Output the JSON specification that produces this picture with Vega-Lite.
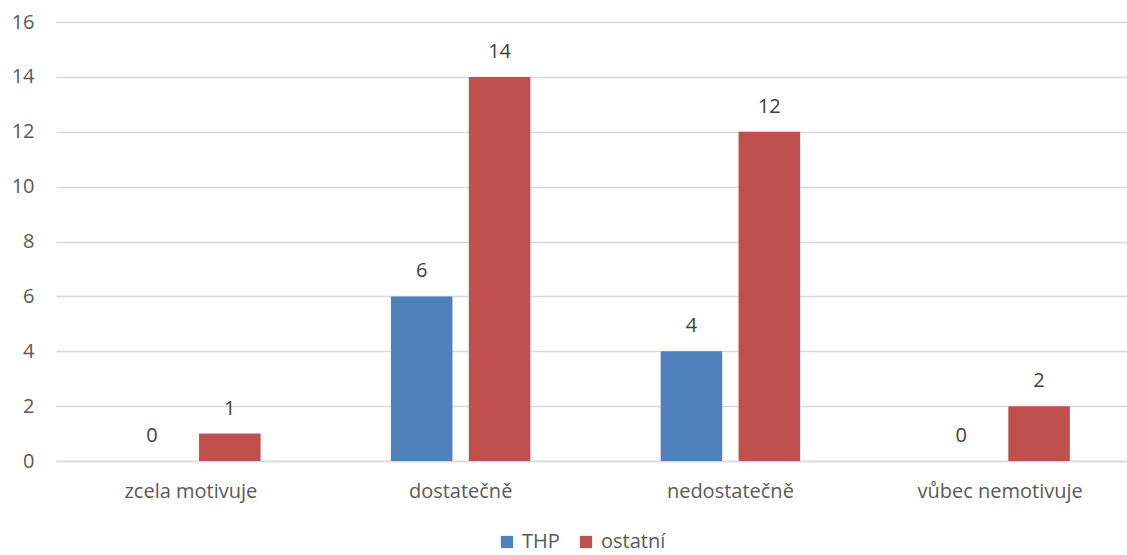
{
  "$schema": "https://vega.github.io/schema/vega-lite/v6.json",
  "width": 1071,
  "height": 439,
  "autosize": {"type": "none"},
  "padding": {"left": 56, "top": 22, "right": 0, "bottom": 94},
  "background": "white",
  "config": {
    "view": {"stroke": null},
    "font": "Open Sans",
    "axis": {"labelFont": "Open Sans", "labelColor": "#595959", "labelFontSize": 20}
  },
  "data": {
    "values": [
      {"kategorie": "zcela motivuje", "skupina": "THP", "pocet": 0},
      {"kategorie": "zcela motivuje", "skupina": "ostatní", "pocet": 1},
      {"kategorie": "dostatečně", "skupina": "THP", "pocet": 6},
      {"kategorie": "dostatečně", "skupina": "ostatní", "pocet": 14},
      {"kategorie": "nedostatečně", "skupina": "THP", "pocet": 4},
      {"kategorie": "nedostatečně", "skupina": "ostatní", "pocet": 12},
      {"kategorie": "vůbec nemotivuje", "skupina": "THP", "pocet": 0},
      {"kategorie": "vůbec nemotivuje", "skupina": "ostatní", "pocet": 2}
    ]
  },
  "encoding": {
    "x": {
      "field": "kategorie", "type": "nominal",
      "sort": ["zcela motivuje", "dostatečně", "nedostatečně", "vůbec nemotivuje"],
      "scale": {"range": [0, 1079], "paddingInner": 0.483, "paddingOuter": 0.2415},
      "axis": {"title": null, "labelAngle": 0, "ticks": false, "domainColor": "#d9d9d9", "domainWidth": 1.5, "labelPadding": 20}
    },
    "xOffset": {
      "field": "skupina", "type": "nominal",
      "sort": ["THP", "ostatní"],
      "scale": {"paddingInner": 0.21, "paddingOuter": 0}
    },
    "y": {
      "field": "pocet", "type": "quantitative",
      "scale": {"domain": [0, 16]},
      "axis": {"title": null, "values": [0, 2, 4, 6, 8, 10, 12, 14, 16], "domain": false, "ticks": false, "gridColor": "#d9d9d9", "gridWidth": 1.5, "labelPadding": 22}
    }
  },
  "layer": [
    {
      "mark": {"type": "bar"},
      "encoding": {
        "color": {
          "field": "skupina", "type": "nominal",
          "sort": ["THP", "ostatní"],
          "scale": {"domain": ["THP", "ostatní"], "range": ["#4f81bd", "#c0504d"]},
          "legend": {
            "title": null, "orient": "none", "direction": "horizontal",
            "legendX": 441, "legendY": 510,
            "symbolType": "square", "symbolSize": 150, "symbolStrokeWidth": 0,
            "labelFontSize": 20, "labelColor": "#595959", "labelFont": "Open Sans",
            "columnPadding": 16, "labelOffset": 5
          }
        }
      }
    },
    {
      "mark": {"type": "text", "dy": -15, "baseline": "bottom", "fontSize": 20, "color": "#404040", "font": "Open Sans"},
      "encoding": {
        "text": {"field": "pocet", "type": "quantitative"}
      }
    }
  ]
}
